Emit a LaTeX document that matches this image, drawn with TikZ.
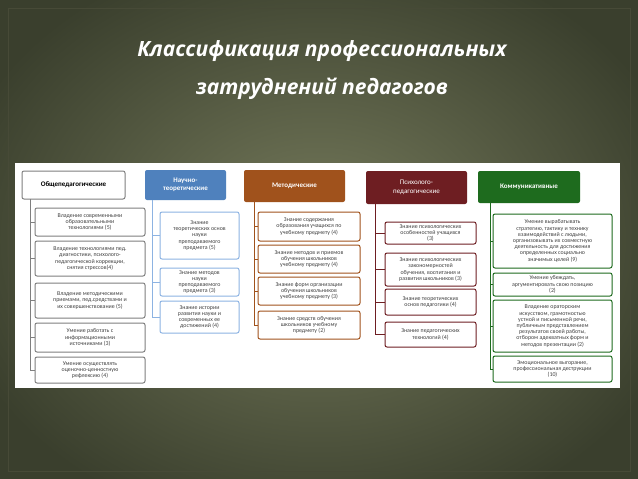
\documentclass[tikz,border=0pt]{standalone}
\usepackage{fontspec}
\setmainfont{Carlito}
\newfontfamily\titlefont{Open Sans}
\begin{document}
\begin{tikzpicture}[x=1pt,y=-1pt,
  ch/.style={draw,rounded corners=2pt,line width=1pt,fill=white,align=center,inner sep=1pt,font=\fontsize{5.9}{6.2}\selectfont,text=black!75},
  hd/.style={rounded corners=2pt,align=center,inner sep=1pt,font=\bfseries\fontsize{7}{8}\selectfont,text=white},
  cn/.style={line width=1pt}]
\definecolor{bgin}{HTML}{767B5C}\definecolor{bgout}{HTML}{3A3F2D}
\definecolor{cA}{HTML}{7F7F7F}\definecolor{cB}{HTML}{4F81BD}\definecolor{cBl}{HTML}{8DB3E2}
\definecolor{cC}{HTML}{A0521C}\definecolor{cD}{HTML}{6E1E22}\definecolor{cE}{HTML}{1E6B1E}
\useasboundingbox (0,0) rectangle (638,479);
\shade[inner color=bgin,outer color=bgout] (-60,-60) rectangle (698,539);
\draw[color=black!40!bgin,line width=0.8pt] (8,8) rectangle (630,471);
\node[text=white,font=\titlefont\bfseries\itshape\fontsize{21}{38}\selectfont,align=center] (title) at (322,70) {Классификация профессиональных\\затруднений педагогов};
\fill[white] (15,163) rectangle (620,388);
% column 1
\node[draw=cA,line width=1pt,rounded corners=2pt,font=\bfseries\fontsize{7}{8}\selectfont,minimum width=103,minimum height=28] (h1) at (73.5,185) {Общепедагогические};
\coordinate (t1) at (30,199);
\foreach \n/\y/\h/\t in {a1/222/28/{Владение современными\\образовательными\\технологиями (5)},
 a2/258.5/35/{Владение технологиями пед.\\диагностики, психолого-\\педагогической коррекции,\\снятия стрессов(4)},
 a3/300.5/35/{Владение методическими\\приемами, пед.средствами и\\их совершенствование (5)},
 a4/337.5/29/{Умение работать с\\информационными\\источниками (3)},
 a5/370/26/{Умение осуществлять\\оценочно-ценностную\\рефлексию (4)}}
 {\node[ch,draw=cA,minimum width=110,minimum height=\h] (\n) at (90,\y) {\t}; \draw[cn,cA] (t1) |- (\n.west);}
% column 2
\node[hd,fill=cB,minimum width=81,minimum height=30] (h2) at (185.5,185) {Научно-\\теоретические};
\coordinate (t2) at (152,200);
\foreach \n/\y/\h/\t in {b1/235.5/47/{Знание\\теоретических основ\\науки\\преподаваемого\\предмета (5)},
 b2/282/28/{Знание методов\\науки\\преподаваемого\\предмета (3)},
 b3/317/32/{Знание истории\\развития науки и\\современных ее\\достижений (4)}}
 {\node[ch,draw=cBl,minimum width=79,minimum height=\h] (\n) at (199.5,\y) {\t}; \draw[cn,cBl] (t2) |- (\n.west);}
% column 3
\node[hd,fill=cC,minimum width=101,minimum height=32] (h3) at (294.5,186) {Методические};
\coordinate (t3) at (254,202);
\foreach \n/\y/\h/\t in {c1/226.5/29/{Знание содержания\\образования учащихся по\\учебному предмету (4)},
 c2/259/28/{Знание методов и приемов\\обучения школьников\\учебному предмету (4)},
 c3/291/28/{Знание форм организации\\обучения школьников\\учебному предмету (3)},
 c4/325/28/{Знание средств обучения\\школьников учебному\\предмету (2)}}
 {\node[ch,draw=cC,minimum width=102,minimum height=\h] (\n) at (309,\y) {\t}; \draw[cn,cC] (t3) |- (\n.west);}
% column 4
\node[hd,fill=cD,minimum width=101,minimum height=33,font=\fontsize{7}{8.5}\selectfont] (h4) at (416.5,187.5) {Психолого-\\педагогические};
\coordinate (t4) at (375,204);
\foreach \n/\y/\h/\t in {d1/233/22/{Знание психологических\\особенностей учащихся\\(3)},
 d2/269.5/33/{Знание психологических\\закономерностей\\обучения, воспитания и\\развития школьников (3)},
 d3/302/26/{Знание теоретических\\основ педагогики (4)},
 d4/334.5/25/{Знание педагогических\\технологий (4)}}
 {\node[ch,draw=cD,minimum width=91,minimum height=\h] (\n) at (430.5,\y) {\t}; \draw[cn,cD] (t4) |- (\n.west);}
% column 5
\node[hd,fill=cE,minimum width=102,minimum height=32] (h5) at (529,187) {Коммуникативные};
\coordinate (t5) at (490,203);
\foreach \n/\y/\h/\t in {e1/241/54/{Умение вырабатывать\\стратегию, тактику и технику\\взаимодействий с людьми,\\организовывать их совместную\\деятельность для достижения\\определенных социально\\значимых целей (9)},
 e2/284.5/23/{Умение убеждать,\\аргументировать свою позицию\\(2)},
 e3/326/52/{Владение ораторским\\искусством, грамотностью\\устной и письменной речи,\\публичным представлением\\результатов своей работы,\\отбором адекватных форм и\\методов презентации (2)},
 e4/369/26/{Эмоциональное выгорание,\\профессиональная деструкции\\(10)}}
 {\node[ch,draw=cE,minimum width=119,minimum height=\h] (\n) at (552.5,\y) {\t}; \draw[cn,cE] (t5) |- (\n.west);}
\end{tikzpicture}
\end{document}
